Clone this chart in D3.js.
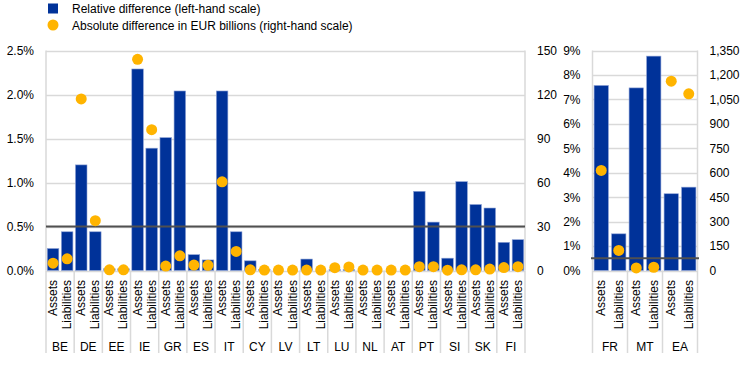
<!DOCTYPE html>
<html><head><meta charset="utf-8">
<script src="https://cdn.jsdelivr.net/npm/d3@7"></script>
<style>body{margin:0;background:#fff}svg{display:block;font-family:"Liberation Sans",Arial,sans-serif}</style>
</head><body><svg id="c" width="744" height="367"></svg>
<script>
const countriesL = ["BE","DE","EE","IE","GR","ES","IT","CY","LV","LT","LU","NL","AT","PT","SI","SK","FI"];
const sides = ["Assets","Liabilities"];
// relative difference (%), per country: [assets, liabilities]
const relL = [0.25,0.44, 1.20,0.44, 0.02,0.02, 2.29,1.39, 1.51,2.04, 0.18,0.12, 2.04,0.44, 0.11,0.01,
              0.0,0.0, 0.13,0.0, 0.01,0.01, 0.0,0.0, 0.0,0.0, 0.90,0.55, 0.14,1.01, 0.75,0.71, 0.32,0.35];
// absolute difference (EUR billions)
const absL = [5,8, 117,34, 0.5,0.5, 144,96, 3,10, 3.7,3.5, 60.5,13, 0.5,0.3,
              0.3,0.3, 0.3,0.3, 1.9,2.4, 0.3,0.3, 0.3,0.3, 2.6,2.6, 0.2,0.5, 0.5,1, 2,2.6];
const countriesR = ["FR","MT","EA"];
const relR = [7.57,1.50, 7.47,8.77, 3.14,3.41];
const absR = [614,123, 16,20, 1162,1084];
const leftTicksL = [0,0.5,1.0,1.5,2.0,2.5];
const rightTicksL = [0,30,60,90,120,150];
const leftTicksR = [0,1,2,3,4,5,6,7,8,9];
const rightTicksR = [0,150,300,450,600,750,900,1050,1200,1350];
const thresholdL = 0.5, thresholdR = 0.5;

const BLUE="#003299", GOLD="#FFB400", GRID="#d9d9d9", TXT="#000";
const svg = d3.select("#c");
const y0=270.5, y1=50.5;

function panel(countries, rel, abs, x0, x1, yMaxL, yMaxR, ticksL, ticksR, fmtL, fmtR, thr, lineExt){
  const cats=[]; countries.forEach(c=>sides.forEach(s=>cats.push(c+"|"+s)));
  const x=d3.scaleBand().domain(cats).range([x0,x1]).paddingInner(0.18).paddingOuter(0.09);
  const yl=d3.scaleLinear().domain([0,yMaxL]).range([y0,y1]);
  const yr=d3.scaleLinear().domain([0,yMaxR]).range([y0,y1]);
  const g=svg.append("g");
  // grid
  g.selectAll("line.grid").data(ticksL).join("line")
    .attr("x1",x0).attr("x2",x1).attr("y1",d=>Math.round(yl(d))+0.5).attr("y2",d=>Math.round(yl(d))+0.5)
    .attr("stroke",GRID).attr("stroke-width",1.5);
  // frame verticals
  [x0,x1].forEach(v=>g.append("line").attr("x1",v).attr("x2",v).attr("y1",y1).attr("y2",y0).attr("stroke",GRID).attr("stroke-width",1.5));
  // axes labels
  const axL=d3.axisLeft(yl).tickValues(ticksL).tickFormat(fmtL).tickSize(0).tickPadding(12);
  const gl=g.append("g").attr("transform",`translate(${x0},0)`).call(axL);
  const axR=d3.axisRight(yr).tickValues(ticksR).tickFormat(fmtR).tickSize(0).tickPadding(12);
  const gr=g.append("g").attr("transform",`translate(${x1},0)`).call(axR);
  [gl,gr].forEach(a=>{a.select(".domain").remove();a.selectAll("text").attr("font-size",12).attr("fill",TXT).attr("font-family","Liberation Sans, Arial, sans-serif");});
  // bars
  g.selectAll("rect.bar").data(rel).join("rect")
    .attr("x",(d,i)=>x(cats[i])).attr("width",x.bandwidth())
    .attr("y",d=>yl(d)).attr("height",d=>y0-yl(d))
    .attr("fill",BLUE).attr("stroke","#8fa3d6").attr("stroke-width",0.6);
  // threshold
  g.append("line").attr("x1",x0-lineExt).attr("x2",x1+lineExt).attr("y1",yl(thr)).attr("y2",yl(thr))
    .attr("stroke","#505050").attr("stroke-width",2);
  // dots
  g.selectAll("circle.dot").data(abs).join("circle")
    .attr("cx",(d,i)=>x(cats[i])+x.bandwidth()/2).attr("cy",d=>yr(d)).attr("r",5.5).attr("fill",GOLD);
  // category labels
  g.selectAll("text.cat").data(cats).join("text")
    .attr("transform",d=>`translate(${x(d)+x.bandwidth()/2+4},280) rotate(-90)`)
    .attr("text-anchor","end").attr("font-size",12).attr("fill",TXT).text(d=>d.split("|")[1]);
  // group dividers
  const step=x.step();
  const bounds=[x0]; countries.forEach((c,i)=>bounds.push(x0+(x1-x0)*(i+1)/countries.length));
  g.selectAll("line.div").data(bounds).join("line")
    .attr("x1",d=>d).attr("x2",d=>d).attr("y1",y0).attr("y2",353).attr("stroke",GRID).attr("stroke-width",1.5);
  g.selectAll("text.cty").data(countries).join("text")
    .attr("x",(d,i)=>(bounds[i]+bounds[i+1])/2).attr("y",351).attr("text-anchor","middle")
    .attr("font-size",12).attr("fill",TXT).text(d=>d);
}
panel(countriesL,relL,absL,46,525,2.5,150,leftTicksL,rightTicksL,d=>d.toFixed(1)+"%",d=>d,thresholdL,0);
panel(countriesR,relR,absR,592.5,697.5,9,1350,leftTicksR,rightTicksR,d=>d+"%",d3.format(","),thresholdR,1.5);

// legend
svg.append("rect").attr("x",48).attr("y",3.5).attr("width",10).attr("height",10).attr("fill",BLUE);
svg.append("circle").attr("cx",53).attr("cy",25).attr("r",5.5).attr("fill",GOLD);
svg.append("text").attr("x",72).attr("y",12.5).attr("font-size",12).attr("fill",TXT).text("Relative difference (left-hand scale)");
svg.append("text").attr("x",72).attr("y",29.5).attr("font-size",12).attr("fill",TXT).text("Absolute difference in EUR billions (right-hand scale)");
</script></body></html>
